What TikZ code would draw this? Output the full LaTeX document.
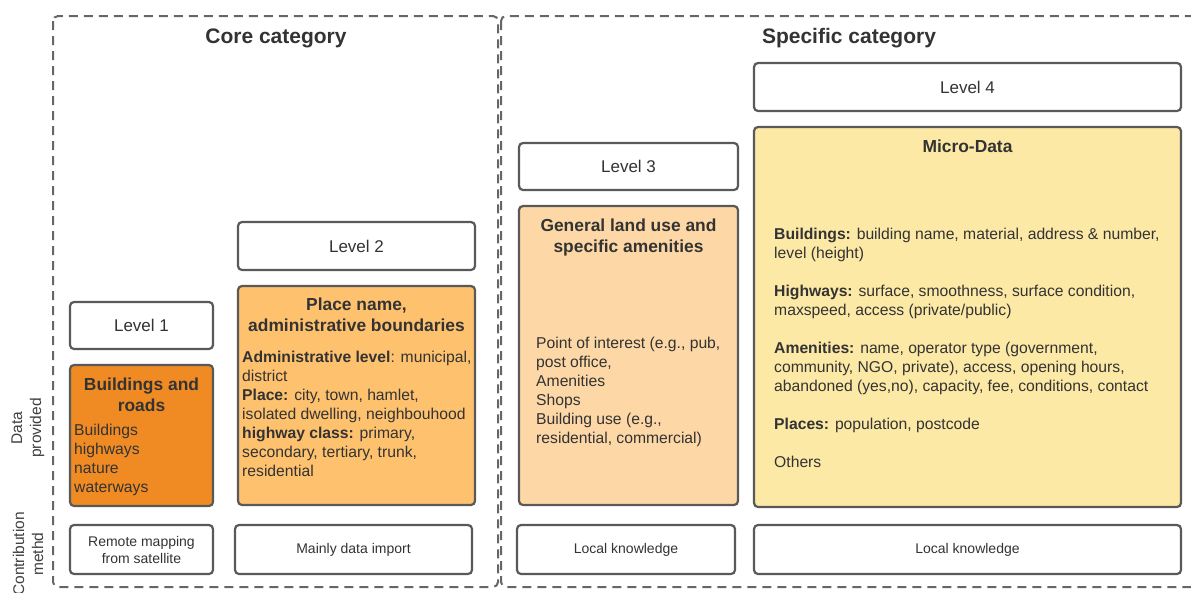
\documentclass[tikz,border=0pt]{standalone}
\usepackage{fontspec}
\setmainfont{Liberation Sans}
\definecolor{dkorange}{RGB}{240,139,36}
\definecolor{ltorange}{RGB}{254,193,110}
\definecolor{peach}{RGB}{253,216,166}
\definecolor{pale}{RGB}{253,233,166}
\begin{document}
\begin{tikzpicture}[x=1pt,y=-1pt,
	frame/.style={draw=black!60,line width=2pt,dash pattern=on 9pt off 6pt,rounded corners=5pt},
	box/.style={draw=black!65,line width=2.2pt,rounded corners=4pt,inner sep=0pt},
	lvl/.style={box,fill=white,font=\fontsize{17}{20}\selectfont,text=black!80},
	methbox/.style={box,fill=white,font=\fontsize{14}{17}\selectfont,text=black!80,align=center},
	ttl/.style={font=\bfseries\fontsize{17.4}{21}\selectfont,text=black!80,align=center,anchor=base,inner sep=0pt},
	body/.style={font=\fontsize{15.7}{19}\selectfont,text=black!80,align=left,anchor=base west,inner sep=0pt},
	cat/.style={font=\bfseries\fontsize{21}{25}\selectfont,text=black!80,anchor=base},
	side/.style={rotate=90,font=\fontsize{15.5}{19}\selectfont,text=black!75,align=center}]
	\useasboundingbox (0,0) rectangle (1191,592);

	\draw[frame] (53,16) rectangle (498,587);
	\draw[frame] (501,16) rectangle (1205,587);

	\node[cat] (coreT) at (276,43) {Core category};
	\node[cat] (specT) at (849,43) {Specific category};

	\node[side] (dataL) at (28,428) {Data\\provided};
	\node[side] (methL) at (28,554) {Contribution\\methd};

	\node[lvl,minimum width=143,minimum height=47] (lvA) at (141.5,325.5) {Level 1};
	\node[lvl,minimum width=237,minimum height=48] (lvB) at (356.5,246) {Level 2};
	\node[lvl,minimum width=219,minimum height=47] (lvC) at (628.5,166.5) {Level 3};
	\node[lvl,minimum width=427,minimum height=48] (lvD) at (967.5,87) {Level 4};

	\node[box,fill=dkorange,minimum width=143,minimum height=141] (bldg) at (141.5,435.5) {};
	\node[box,fill=ltorange,minimum width=237,minimum height=219] (place) at (356.5,395.5) {};
	\node[box,fill=peach,minimum width=219,minimum height=299] (landuse) at (628.5,355.5) {};
	\node[box,fill=pale,minimum width=427,minimum height=380] (micro) at (967.5,317) {};

	% base of a multi-line node = baseline of its last line
	\node[ttl] (bldgT) at (141.5,411) {Buildings and\\roads};
	\node[body] (bldgB) at (74,492) {Buildings\\highways\\nature\\waterways};

	\node[ttl] (placeT) at (356.5,331) {Place name,\\administrative boundaries};
	\node[body] (placeB) at (242,476) {\textbf{Administrative level}: municipal,\\district\\\textbf{Place:} city, town, hamlet,\\isolated dwelling, neighbouhood\\\textbf{highway class:} primary,\\secondary, tertiary, trunk,\\residential};

	\node[ttl] (landT) at (628.5,252) {General land use and\\specific amenities};
	\node[body] (landB) at (536,443) {Point of interest (e.g., pub,\\post office,\\Amenities\\Shops\\Building use (e.g.,\\residential, commercial)};

	\node[ttl] (microT) at (967.5,152) {Micro-Data};
	\node[body] (microB) at (774,467) {\textbf{Buildings:} building name, material, address \& number,\\level (height)\\[19pt]\textbf{Highways:} surface, smoothness, surface condition,\\maxspeed, access (private/public)\\[19pt]\textbf{Amenities:} name, operator type (government,\\community, NGO, private), access, opening hours,\\abandoned (yes,no), capacity, fee, conditions, contact\\[19pt]\textbf{Places:} population, postcode\\[19pt]Others};

	\node[methbox,minimum width=143,minimum height=49] (cmA) at (141.5,549.5) {Remote mapping\\from satellite};
	\node[methbox,minimum width=237,minimum height=49] (cmB) at (353.5,549.5) {Mainly data import};
	\node[methbox,minimum width=218,minimum height=49] (cmC) at (626,549.5) {Local knowledge};
	\node[methbox,minimum width=427,minimum height=49] (cmD) at (967.5,549.5) {Local knowledge};
\end{tikzpicture}
\end{document}
